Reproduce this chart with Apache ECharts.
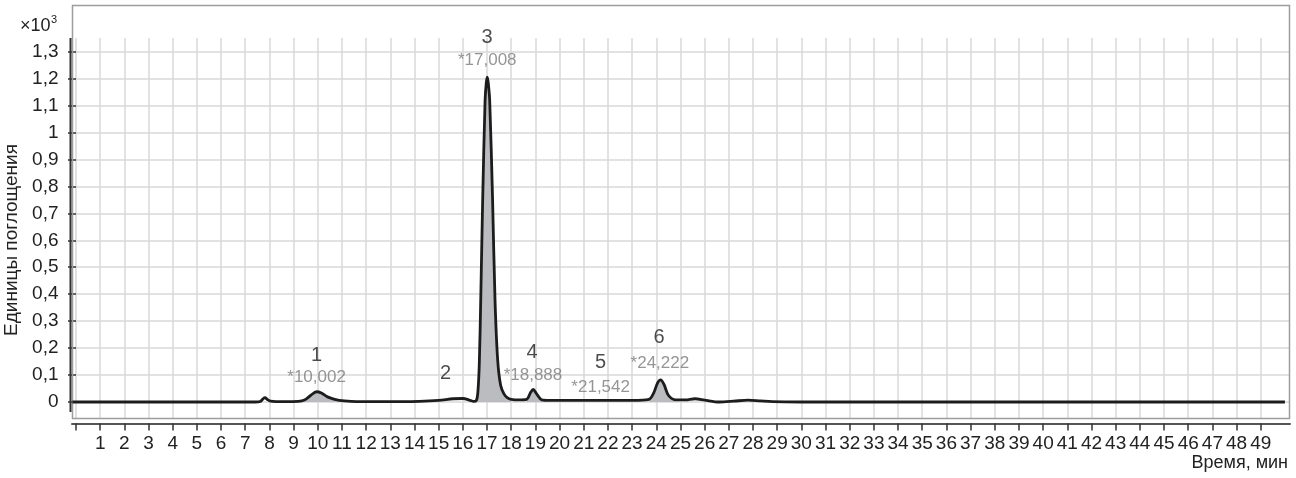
<!DOCTYPE html>
<html>
<head>
<meta charset="utf-8">
<script src="https://cdn.jsdelivr.net/npm/echarts@6/dist/echarts.min.js"></script>
<style>
html,body{margin:0;padding:0;background:#ffffff;}
#c{width:1296px;height:478px;}
</style>
</head>
<body>
<div id="c"></div>
<script>
// ---- data ----
const times  = [-0.15, 7.4, 7.62, 7.75, 7.82, 7.9, 8.05, 8.6, 9.2, 9.45, 9.7, 9.95, 10.15, 10.4, 10.7, 11.1, 11.6, 13.5, 14.2, 15.0, 15.6, 16.0, 16.3, 16.45, 16.56, 16.62, 16.68, 16.74, 16.82, 16.92, 16.97, 17.01, 17.05, 17.11, 17.23, 17.33, 17.44, 17.56, 17.7, 17.85, 18.0, 18.3, 18.64, 18.8, 18.91, 19.05, 19.26, 19.6, 21.0, 23.0, 23.7, 23.9, 24.05, 24.18, 24.32, 24.5, 24.8, 25.2, 25.6, 26.0, 26.6, 27.2, 27.8, 28.3, 28.8, 30.0, 50.0];
const signal = [0, 0, 0.002, 0.013, 0.016, 0.01, 0.003, 0.001, 0.002, 0.007, 0.024, 0.038, 0.033, 0.019, 0.01, 0.004, 0.001, 0.001, 0.002, 0.006, 0.012, 0.013, 0.006, 0.002, 0.006, 0.035, 0.14, 0.38, 0.75, 1.12, 1.185, 1.205, 1.185, 1.12, 0.75, 0.38, 0.156, 0.063, 0.03, 0.015, 0.01, 0.008, 0.01, 0.035, 0.047, 0.03, 0.008, 0.006, 0.006, 0.006, 0.01, 0.035, 0.07, 0.082, 0.065, 0.025, 0.008, 0.008, 0.012, 0.007, 0.0, 0.003, 0.007, 0.004, 0.001, 0, 0];

// shaded (integrated) peaks: start / end retention times
const fillStart = [9.45, 16.56, 18.64, 23.7];
const fillEnd   = [11.1, 18.0, 19.26, 24.8];

// peak annotations
const peakNumbers = ['1', '2', '3', '4', '5', '6'];
const peakNumberX = [9.95, 15.29, 17.0, 18.86, 21.7, 24.11];
const peakNumberY = [0.174, 0.104, 1.354, 0.182, 0.145, 0.241];
const peakTimes   = ['*10,002', '*17,008', '*18,888', '*21,542', '*24,222'];
const peakTimeX   = [9.95, 17.01, 18.9, 21.7, 24.15];
const peakTimeY   = [0.090, 1.269, 0.100, 0.053, 0.145];

// axes ticks
const xTicks  = [0,1,2,3,4,5,6,7,8,9,10,11,12,13,14,15,16,17,18,19,20,21,22,23,24,25,26,27,28,29,30,31,32,33,34,35,36,37,38,39,40,41,42,43,44,45,46,47,48,49];
const xLabels = [1,2,3,4,5,6,7,8,9,10,11,12,13,14,15,16,17,18,19,20,21,22,23,24,25,26,27,28,29,30,31,32,33,34,35,36,37,38,39,40,41,42,43,44,45,46,47,48,49];
const yTicks  = [0, 0.1, 0.2, 0.3, 0.4, 0.5, 0.6, 0.7, 0.8, 0.9, 1.0, 1.1, 1.2, 1.3];

const xTitle = 'Время, мин';
const yTitle = 'Единицы поглощения';
const yScaleText = '×10';
const yScaleExp = '3';

// ---- chart ----
const FONT = "'Liberation Sans', Arial, sans-serif";
const lineData = times.map((t, i) => [t, signal[i]]);

const fillSeries = fillStart.map((s, k) => ({
  type: 'line',
  data: lineData.filter(p => p[0] >= s && p[0] <= fillEnd[k]),
  smooth: 0.3,
  symbol: 'none',
  silent: true,
  lineStyle: {width: 0, opacity: 0},
  areaStyle: {color: '#bbbcc0', opacity: 1, origin: 0},
  z: 2
}));

const chart = echarts.init(document.getElementById('c'), null, {renderer: 'canvas'});
chart.setOption({
  animation: false,
  backgroundColor: '#ffffff',
  textStyle: {fontFamily: FONT},
  grid: {left: 72, right: 6, top: 38, bottom: 59, containLabel: false},
  xAxis: {
    type: 'value',
    min: -0.165,
    max: 50.21,
    offset: 4.5,
    axisLine: {show: true, onZero: false, lineStyle: {color: '#555555', width: 2}},
    axisTick: {show: true, length: 7, customValues: xTicks, lineStyle: {color: '#333333', width: 1.5}},
    axisLabel: {show: true, customValues: xLabels, margin: 11, fontSize: 19, color: '#222222', fontFamily: FONT},
    splitLine: {show: true, lineStyle: {color: '#d8d8d8', width: 1.5}}
  },
  yAxis: {
    type: 'value',
    min: -0.0631,
    max: 1.3506,
    offset: 1.5,
    axisLine: {show: false},
    axisTick: {show: true, length: 8, customValues: yTicks, lineStyle: {color: '#333333', width: 1.5}},
    axisLabel: {
      show: true, customValues: yTicks, margin: 12, fontSize: 19, color: '#222222', fontFamily: FONT,
      formatter: v => String(Math.round(v * 10) / 10).replace('.', ',')
    },
    splitLine: {show: true, lineStyle: {color: '#d8d8d8', width: 1.5}}
  },
  graphic: [
    {type: 'rect', shape: {x: 72.5, y: 5.5, width: 1217, height: 413}, style: {fill: 'none', stroke: '#9d9d9d', lineWidth: 1.5}, z: 1},
    {type: 'line', shape: {x1: 70.5, y1: 38, x2: 70.5, y2: 412}, style: {stroke: '#333333', lineWidth: 2}, z: 10},
    {type: 'text', x: 20, y: 26, style: {text: yScaleText, fontSize: 18, fontFamily: FONT, fill: '#222222', align: 'left', verticalAlign: 'middle'}},
    {type: 'text', x: 51, y: 20, style: {text: yScaleExp, fontSize: 11, fontFamily: FONT, fill: '#222222', align: 'left', verticalAlign: 'middle'}},
    {type: 'text', x: 1288, y: 463, style: {text: xTitle, fontSize: 18, fontFamily: FONT, fill: '#222222', align: 'right', verticalAlign: 'middle'}},
    {type: 'text', x: 12, y: 240, rotation: Math.PI / 2, style: {text: yTitle, fontSize: 19, fontFamily: FONT, fill: '#222222', align: 'center', verticalAlign: 'middle'}}
  ],
  series: fillSeries.concat([
    {
      type: 'line',
      data: lineData,
      smooth: 0.3,
      symbol: 'none',
      lineStyle: {color: '#1c1c1c', width: 2.8},
      z: 3
    },
    {
      type: 'scatter',
      symbolSize: 1,
      clip: false,
      silent: true,
      itemStyle: {color: 'rgba(0,0,0,0)'},
      data: peakNumbers.map((n, i) => ({value: [peakNumberX[i], peakNumberY[i]], name: n})),
      label: {show: true, position: 'inside', formatter: '{b}', fontSize: 20, color: '#1e1e1e', fontFamily: FONT},
      z: 4
    },
    {
      type: 'scatter',
      symbolSize: 1,
      clip: false,
      silent: true,
      itemStyle: {color: 'rgba(0,0,0,0)'},
      data: peakTimes.map((n, i) => ({value: [peakTimeX[i], peakTimeY[i]], name: n})),
      label: {show: true, position: 'inside', formatter: '{b}', fontSize: 17, color: '#7a7a7a', fontFamily: FONT},
      z: 4
    }
  ])
});
</script>
</body>
</html>
